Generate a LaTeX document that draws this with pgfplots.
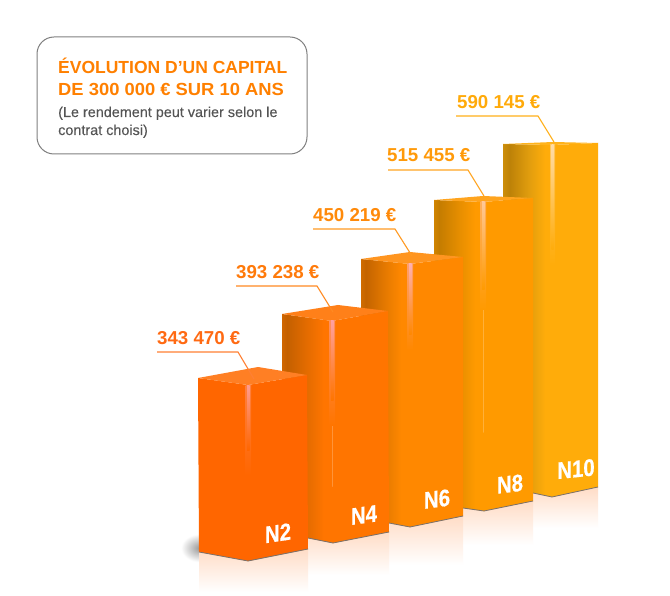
\documentclass[border=0pt]{standalone}
\usepackage{pgfplots}
\pgfplotsset{compat=1.18}
\usepackage{fontspec}
\setmainfont{Liberation Sans}
\newfontfamily\nfont[FakeStretch=0.85,FakeBold=0.5]{Liberation Sans Bold}
\newfontfamily\subfont[FakeBold=0.15]{Liberation Sans}
\definecolor{dkA}{HTML}{C46000}\definecolor{edA}{HTML}{D06600}\definecolor{miA}{HTML}{E56C00}\definecolor{bsA}{HTML}{FF7500}
\definecolor{dkB}{HTML}{C46400}\definecolor{edB}{HTML}{D06C00}\definecolor{miB}{HTML}{E67A00}\definecolor{bsB}{HTML}{FF8800}
\definecolor{dkC}{HTML}{C47C00}\definecolor{edC}{HTML}{D08400}\definecolor{miC}{HTML}{E68E00}\definecolor{bsC}{HTML}{FF9A00}
\definecolor{dkD}{HTML}{BD8208}\definecolor{edD}{HTML}{CC8E0A}\definecolor{miD}{HTML}{E29E0E}\definecolor{bsD}{HTML}{FFAC0A}
\pgfdeclarehorizontalshading{leftA}{100bp}{color(0bp)=(edA);color(25bp)=(edA);color(30bp)=(dkA);color(50bp)=(miA);color(66bp)=(bsA);color(100bp)=(bsA)}
\pgfdeclarehorizontalshading{leftB}{100bp}{color(0bp)=(edB);color(25bp)=(edB);color(30bp)=(dkB);color(50bp)=(miB);color(66bp)=(bsB);color(100bp)=(bsB)}
\pgfdeclarehorizontalshading{leftC}{100bp}{color(0bp)=(edC);color(25bp)=(edC);color(30bp)=(dkC);color(50bp)=(miC);color(66bp)=(bsC);color(100bp)=(bsC)}
\pgfdeclarehorizontalshading{leftD}{100bp}{color(0bp)=(edD);color(25bp)=(edD);color(32bp)=(dkD);color(52bp)=(miD);color(68bp)=(bsD);color(100bp)=(bsD)}
\definecolor{faceE}{HTML}{FF6600}
\definecolor{topA}{HTML}{FF8019}\definecolor{topB}{HTML}{FF9520}\definecolor{topC}{HTML}{FFA41E}\definecolor{topD}{HTML}{FFB31C}\definecolor{topE}{HTML}{FF7F24}
\definecolor{lblE}{HTML}{FF6A13}\definecolor{lblA}{HTML}{FF7A0A}\definecolor{lblB}{HTML}{FF8A0A}\definecolor{lblC}{HTML}{FF9A0A}\definecolor{lblD}{HTML}{FFAA0A}
\definecolor{ttl}{HTML}{FF8000}\definecolor{sub}{HTML}{555555}\definecolor{box}{HTML}{808080}
\definecolor{refl}{HTML}{FFDCC6}\definecolor{edge}{HTML}{7A706A}
\definecolor{hlDa}{HTML}{FFC860}\definecolor{hlDb}{HTML}{FFDCA8}
\definecolor{hlCa}{HTML}{FFB060}\definecolor{hlCb}{HTML}{FFC898}
\definecolor{hlBa}{HTML}{FFA070}\definecolor{hlBb}{HTML}{FFB0B0}
\definecolor{hlAa}{HTML}{FF9060}\definecolor{hlAb}{HTML}{FFA0A0}
\definecolor{hlEa}{HTML}{FF8040}\definecolor{hlEb}{HTML}{FF9C90}
\definecolor{lnE}{HTML}{FF8033}\definecolor{lnA}{HTML}{FF8A22}\definecolor{lnB}{HTML}{FF9A22}\definecolor{lnC}{HTML}{FFA522}\definecolor{lnD}{HTML}{FFB01A}
\begin{document}
\begin{tikzpicture}
\begin{axis}[
  width=670pt,height=596pt,scale only axis,
  xmin=0,xmax=670,ymin=0,ymax=596,y dir=reverse,
  hide axis,clip=true]
% background
\addplot[draw=none,fill=white] coordinates {(0,0)(670,0)(670,596)(0,596)};
% shadow left of N2
\addplot[draw=none,inner color=gray!80,outer color=white] coordinates {(181,534)(218,534)(218,562)(181,562)};
% reflections
\addplot[draw=none,top color=refl,bottom color=white] coordinates {(533,487)(598,487)(598,528)(533,528)};
\addplot[draw=none,top color=refl,bottom color=white] coordinates {(463,501)(533,501)(533,545)(463,545)};
\addplot[draw=none,top color=refl,bottom color=white] coordinates {(389,516)(463,516)(463,565)(389,565)};
\addplot[draw=none,top color=refl,bottom color=white] coordinates {(308,532)(389,532)(389,575)(308,575)};
\addplot[draw=none,top color=refl,bottom color=white] coordinates {(199,549)(308,549)(308,592)(199,592)};
% N10
\addplot[draw=none,shading=leftD] coordinates {(503,144)(552,145)(552,497)(533,493)(503,493)};
\addplot[draw=none,fill=bsD] coordinates {(552,145)(598,143)(598,487)(552,497)};
\addplot[draw=none,fill=topD] coordinates {(503,144)(553,142)(598,143)(552,145)};
\addplot[draw=none,top color=hlDa,bottom color=bsD] coordinates {(550,145)(555,145)(555,265)(550,265)};
\addplot[draw=none,top color=hlDb,bottom color=bsD] coordinates {(551.5,145)(553.5,145)(553.5,250)(551.5,250)};
\addplot[edge,line width=0.8pt] coordinates {(533,493)(552,497)(598,487)};
% N8
\addplot[draw=none,shading=leftC] coordinates {(434,200)(483,202)(484,511)(463,508)(434,505)};
\addplot[draw=none,fill=bsC] coordinates {(483,202)(533,198)(533,501)(484,511)};
\addplot[draw=none,fill=topC] coordinates {(434,200)(483,196)(533,198)(483,202)};
\addplot[draw=none,top color=hlCa,bottom color=bsC] coordinates {(480.5,202)(486,202)(486,310)(480.5,310)};
\addplot[draw=none,top color=hlCb,bottom color=bsC] coordinates {(482,202)(484.5,202)(484.5,290)(482,290)};
\addplot[edge,line width=0.8pt] coordinates {(463,508)(484,511)(533,501)};
% N6
\addplot[draw=none,shading=leftB] coordinates {(361,259)(410,264)(410,527)(389,523)(361,520)};
\addplot[draw=none,fill=bsB] coordinates {(410,264)(463,257)(463,516)(410,527)};
\addplot[draw=none,fill=topB] coordinates {(361,259)(410,252)(463,257)(410,264)};
\addplot[draw=none,top color=hlBa,bottom color=bsB] coordinates {(407.5,264)(413,264)(413,350)(407.5,350)};
\addplot[draw=none,top color=hlBb,bottom color=bsB] coordinates {(409,264)(411.5,264)(411.5,335)(409,335)};
\addplot[edge,line width=0.8pt] coordinates {(389,523)(410,527)(463,516)};
% N4
\addplot[draw=none,shading=leftA] coordinates {(282,314)(332,321)(333,543)(308,538)(282,535)};
\addplot[draw=none,fill=bsA] coordinates {(332,321)(388,311)(389,532)(333,543)};
\addplot[draw=none,fill=topA] coordinates {(282,314)(338,305)(388,311)(332,321)};
\addplot[draw=none,top color=hlAa,bottom color=bsA] coordinates {(329.5,321)(335,321)(335,425)(329.5,425)};
\addplot[draw=none,top color=hlAb,bottom color=bsA] coordinates {(331,321)(333.5,321)(333.5,400)(331,400)};
\addplot[edge,line width=0.8pt] coordinates {(308,538)(333,543)(389,532)};
% N2
\addplot[draw=none,fill=faceE] coordinates {(198,378)(248,385)(248,561)(199,552)};
\addplot[draw=none,fill=faceE] coordinates {(248,385)(307,375)(308,549)(248,561)};
\addplot[draw=none,fill=topE] coordinates {(198,378)(258,367)(307,375)(248,385)};
\addplot[draw=none,top color=hlEa,bottom color=faceE] coordinates {(245.5,385)(251,385)(251,475)(245.5,475)};
\addplot[draw=none,top color=hlEb,bottom color=faceE] coordinates {(247,385)(249.5,385)(249.5,450)(247,450)};
\addplot[edge,line width=0.8pt] coordinates {(199,552)(248,561)(308,549)};
% leader lines
\addplot[lnE,line width=1.1pt] coordinates {(157,352)(238,352)(254,379)};
\addplot[lnA,line width=1.1pt] coordinates {(236,286)(317,286)(333,312)};
\addplot[lnB,line width=1.1pt] coordinates {(313,229)(395,229)(412,256)};
\addplot[lnC,line width=1.1pt] coordinates {(388,170)(468,170)(484,196)};
\addplot[lnD,line width=1.1pt] coordinates {(456,116)(538,116)(554,142)};
% box
\draw[box,line width=1pt,rounded corners=17pt] (axis cs:37,37) rectangle (axis cs:307,154);
% texts
\node[anchor=base west,inner sep=0,ttl,font=\fontsize{17.5}{20}\selectfont\bfseries] at (axis cs:58,74) {ÉVOLUTION D’UN CAPITAL};
\node[anchor=base west,inner sep=0,ttl,xscale=1.05,transform shape,font=\fontsize{17.5}{20}\selectfont\bfseries] at (axis cs:58,96) {DE 300 000 € SUR 10 ANS};
\node[anchor=base west,inner sep=0,sub,font=\fontsize{14.4}{16}\selectfont\subfont] at (axis cs:58,117) {(Le rendement peut varier selon le};
\node[anchor=base west,inner sep=0,sub,font=\fontsize{14.4}{16}\selectfont\subfont] at (axis cs:58,135) {contrat choisi)};
\node[anchor=west,inner sep=0,lblE,font=\fontsize{18.7}{20}\selectfont\bfseries] at (axis cs:157,338) {343 470 €};
\node[anchor=west,inner sep=0,lblA,font=\fontsize{18.7}{20}\selectfont\bfseries] at (axis cs:236,272) {393 238 €};
\node[anchor=west,inner sep=0,lblB,font=\fontsize{18.7}{20}\selectfont\bfseries] at (axis cs:313,215) {450 219 €};
\node[anchor=west,inner sep=0,lblC,font=\fontsize{18.7}{20}\selectfont\bfseries] at (axis cs:387,155) {515 455 €};
\node[anchor=west,inner sep=0,lblD,font=\fontsize{18.7}{20}\selectfont\bfseries] at (axis cs:457,102) {590 145 €};
\node[yslant=0.15,transform shape,inner sep=0,white,font=\fontsize{24}{25}\selectfont\nfont] at (axis cs:278,533) {N2};
\node[yslant=0.14,transform shape,inner sep=0,white,font=\fontsize{24}{25}\selectfont\nfont] at (axis cs:364,515) {N4};
\node[yslant=0.13,transform shape,inner sep=0,white,font=\fontsize{24}{25}\selectfont\nfont] at (axis cs:437,499) {N6};
\node[yslant=0.12,transform shape,inner sep=0,white,font=\fontsize{24}{25}\selectfont\nfont] at (axis cs:510,484) {N8};
\node[yslant=0.1,transform shape,inner sep=0,white,font=\fontsize{24}{25}\selectfont\nfont] at (axis cs:576,469) {N10};
\end{axis}
\end{tikzpicture}
\end{document}
